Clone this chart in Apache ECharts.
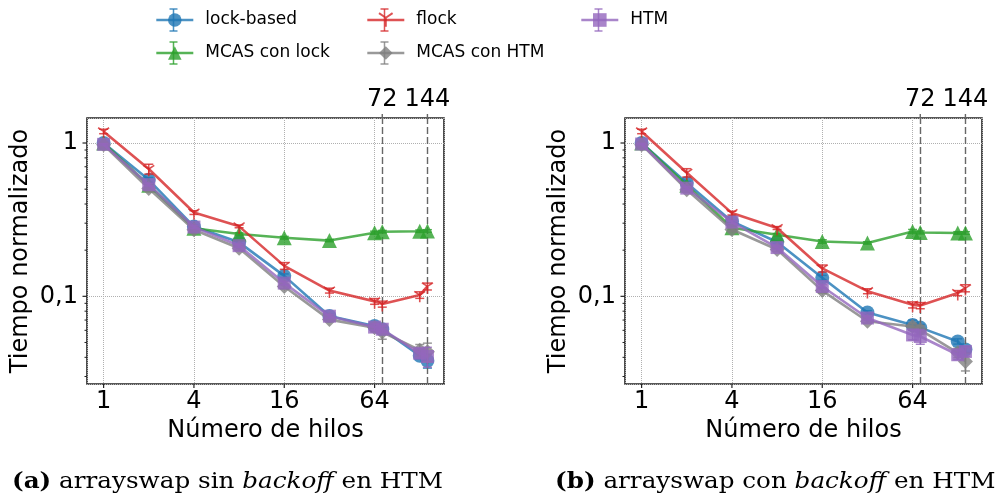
<!DOCTYPE html>
<html>
<head>
<meta charset="utf-8">
<script src="https://cdn.jsdelivr.net/npm/echarts@6/dist/echarts.min.js"></script>
<style>
  html, body { margin: 0; padding: 0; background: #ffffff; }
  #chart { width: 1000px; height: 500px; }
</style>
</head>
<body>
<div id="chart"></div>
<script>
// Thread counts on the x axis
const threads = [1, 2, 4, 8, 16, 32, 64, 72, 128, 144];
const xTickValues = [1, 4, 16, 64];
const yTickValues = [1, 0.1];
const yMinorValues = [0.03, 0.04, 0.05, 0.06, 0.07, 0.08, 0.09, 0.2, 0.3, 0.4, 0.5, 0.6, 0.7, 0.8, 0.9];
const markedThreads = [72, 144];

// (a) arrayswap sin backoff en HTM
const a_lockBased  = [1.0, 0.575, 0.285, 0.225, 0.136, 0.0745, 0.064, 0.061, 0.041, 0.038];
const a_mcasLock   = [1.0, 0.53, 0.278, 0.255, 0.241, 0.231, 0.260, 0.264, 0.266, 0.267];
const a_flock      = [1.19, 0.677, 0.352, 0.286, 0.158, 0.109, 0.0927, 0.089, 0.102, 0.116];
const a_mcasHTM    = [0.975, 0.505, 0.272, 0.206, 0.116, 0.0705, 0.0625, 0.0585, 0.0445, 0.0435];
const a_htm        = [0.98, 0.535, 0.283, 0.214, 0.122, 0.0742, 0.063, 0.061, 0.0425, 0.0405];
const a_err_lockBased = [0.01, 0.02, 0.006, 0.005, 0.004, 0.002, 0.002, 0.002, 0.002, 0.004];
const a_err_mcasLock  = [0.01, 0.01, 0.006, 0.005, 0.005, 0.004, 0.006, 0.005, 0.005, 0.005];
const a_err_flock     = [0.04, 0.05, 0.01, 0.006, 0.008, 0.004, 0.004, 0.004, 0.005, 0.006];
const a_err_mcasHTM   = [0.02, 0.015, 0.008, 0.006, 0.004, 0.002, 0.004, 0.006, 0.004, 0.006];
const a_err_htm       = [0.01, 0.01, 0.006, 0.005, 0.003, 0.002, 0.003, 0.003, 0.003, 0.006];

// (b) arrayswap con backoff en HTM
const b_lockBased  = [1.0, 0.548, 0.308, 0.226, 0.132, 0.0785, 0.065, 0.0625, 0.0508, 0.045];
const b_mcasLock   = [1.0, 0.53, 0.28, 0.252, 0.228, 0.223, 0.265, 0.261, 0.259, 0.259];
const b_flock      = [1.19, 0.64, 0.349, 0.279, 0.152, 0.108, 0.088, 0.087, 0.105, 0.113];
const b_mcasHTM    = [0.975, 0.496, 0.273, 0.202, 0.109, 0.0688, 0.0636, 0.0605, 0.0428, 0.0376];
const b_htm        = [0.985, 0.508, 0.305, 0.208, 0.116, 0.0722, 0.056, 0.0547, 0.0416, 0.0437];
const b_err_lockBased = [0.01, 0.015, 0.006, 0.005, 0.005, 0.002, 0.005, 0.003, 0.002, 0.002];
const b_err_mcasLock  = [0.01, 0.01, 0.006, 0.005, 0.006, 0.004, 0.008, 0.006, 0.005, 0.005];
const b_err_flock     = [0.04, 0.04, 0.01, 0.006, 0.008, 0.004, 0.004, 0.004, 0.004, 0.006];
const b_err_mcasHTM   = [0.02, 0.015, 0.008, 0.006, 0.004, 0.002, 0.003, 0.004, 0.003, 0.005];
const b_err_htm       = [0.01, 0.01, 0.006, 0.005, 0.003, 0.002, 0.004, 0.006, 0.003, 0.003];

const FONT = 'DejaVu Sans';
const SERIF = 'DejaVu Serif';

const styles = [
  { name: 'lock-based',    color: '#1f77b4', symbol: 'circle',   size: 14 },
  { name: 'MCAS con lock', color: '#2ca02c', symbol: 'triangle', size: 15 },
  { name: 'flock',         color: '#d62728', symbol: 'path://M0,0L0,10M0,0L-8.66,-5M0,0L8.66,-5', size: 11, stroke: true },
  { name: 'MCAS con HTM',  color: '#7f7f7f', symbol: 'diamond',  size: 15 },
  { name: 'HTM',           color: '#9467bd', symbol: 'rect',     size: 13 }
];

const panels = [
  { values: [a_lockBased, a_mcasLock, a_flock, a_mcasHTM, a_htm],
    errors: [a_err_lockBased, a_err_mcasLock, a_err_flock, a_err_mcasHTM, a_err_htm] },
  { values: [b_lockBased, b_mcasLock, b_flock, b_mcasHTM, b_htm],
    errors: [b_err_lockBased, b_err_mcasLock, b_err_flock, b_err_mcasHTM, b_err_htm] }
];

const gridBoxes = [
  { left: 87, top: 118, width: 357, height: 266 },
  { left: 625, top: 118, width: 357, height: 266 }
];

const X_MIN = 0.775, X_MAX = 185.7;
const Y_MIN = 0.0268, Y_MAX = 1.456;

const chart = echarts.init(document.getElementById('chart'), null, { renderer: 'canvas' });

const grids = gridBoxes.map(b => ({
  left: b.left, top: b.top, width: b.width, height: b.height,
  show: true, borderColor: '#222', borderWidth: 1.6, backgroundColor: 'transparent'
}));

const xAxes = gridBoxes.map((b, i) => ({
  type: 'log', logBase: 4, gridIndex: i, min: X_MIN, max: X_MAX,
  name: 'Número de hilos', nameLocation: 'middle', nameGap: 30,
  nameTextStyle: { fontFamily: FONT, fontSize: 24, color: '#000' },
  axisLine: { show: false },
  axisTick: { show: false },
  axisLabel: {
    fontFamily: FONT, fontSize: 24, color: '#000', margin: 6,
    showMinLabel: false, showMaxLabel: false,
    formatter: v => {
      const hit = xTickValues.find(t => Math.abs(t - v) / t < 1e-6);
      return hit ? String(hit) : '';
    }
  },
  splitLine: { show: true, lineStyle: { color: '#b0b0b0', width: 1, type: 'dotted' } }
}));

const yAxes = gridBoxes.map((b, i) => ({
  type: 'log', logBase: 10, gridIndex: i, min: Y_MIN, max: Y_MAX,
  name: 'Tiempo normalizado', nameLocation: 'middle', nameGap: 54,
  nameTextStyle: { fontFamily: FONT, fontSize: 24, color: '#000' },
  axisLine: { show: false },
  axisTick: { show: false },
  axisLabel: {
    fontFamily: FONT, fontSize: 24, color: '#000', margin: 9,
    showMinLabel: false, showMaxLabel: false,
    formatter: v => {
      const hit = yTickValues.find(t => Math.abs(t - v) / t < 1e-6);
      return hit ? String(hit).replace('.', ',') : '';
    }
  },
  splitLine: { show: true, lineStyle: { color: '#b0b0b0', width: 1, type: 'dotted' } }
}));

const series = [];
panels.forEach((panel, p) => {
  styles.forEach((st, k) => {
    const vals = panel.values[k];
    const errs = panel.errors[k];
    // error bars
    series.push({
      type: 'custom', xAxisIndex: p, yAxisIndex: p, z: 2 + k * 2,
      silent: true,
      data: threads.map((t, i) => [t, vals[i] - errs[i], vals[i] + errs[i]]),
      encode: { x: 0, y: [1, 2] },
      renderItem: (params, api) => {
        const x = api.value(0);
        const lo = api.coord([x, api.value(1)]);
        const hi = api.coord([x, api.value(2)]);
        const c = 4.5;
        const s = { stroke: st.color, lineWidth: 1.5, opacity: 0.8 };
        return {
          type: 'group',
          children: [
            { type: 'line', shape: { x1: lo[0], y1: lo[1], x2: hi[0], y2: hi[1] }, style: s },
            { type: 'line', shape: { x1: lo[0] - c, y1: lo[1], x2: lo[0] + c, y2: lo[1] }, style: s },
            { type: 'line', shape: { x1: hi[0] - c, y1: hi[1], x2: hi[0] + c, y2: hi[1] }, style: s }
          ]
        };
      }
    });
    const line = {
      name: st.name, type: 'line', xAxisIndex: p, yAxisIndex: p, z: 3 + k * 2,
      data: threads.map((t, i) => [t, vals[i]]),
      symbol: st.symbol, symbolSize: st.size, showSymbol: true,
      symbolOffset: st.stroke ? [0, '16.7%'] : [0, 0],
      lineStyle: { color: st.color, width: 2.6, opacity: 0.8 },
      itemStyle: st.stroke
        ? { color: st.color, borderColor: st.color, borderWidth: 1.6, opacity: 0.8 }
        : { color: st.color, opacity: 0.8, borderWidth: 0 },
      emphasis: { disabled: true },
      animation: false
    };
    if (k === 0) {
      line.markLine = {
        silent: true, symbol: 'none', animation: false,
        lineStyle: { color: '#666', width: 1.4, type: [7, 3] },
        label: { show: true, position: 'end', distance: 6, fontFamily: FONT, fontSize: 24, color: '#000',
                 formatter: prm => String(prm.value) },
        data: markedThreads.map(t => ({ xAxis: t }))
      };
    }
    series.push(line);
  });
});

// Legend: three columns, filled column by column
const legendSlots = [
  { name: 'lock-based',    left: 155, top: 11.5 },
  { name: 'MCAS con lock', left: 155, top: 44.5 },
  { name: 'flock',         left: 366, top: 11.5 },
  { name: 'MCAS con HTM',  left: 366, top: 44.5 },
  { name: 'HTM',           left: 580, top: 11.5 }
];
const LEG_W = 37, LEG_H = 17;
const legends = legendSlots.map(s => ({
  data: [s.name], left: s.left, top: s.top, padding: 0,
  itemWidth: LEG_W, itemHeight: LEG_H, selectedMode: false,
  lineStyle: { width: 2.6 },
  textStyle: { fontFamily: FONT, fontSize: 17, color: '#000', padding: [0, 0, 0, 7] }
}));

chart.setOption({
  backgroundColor: '#ffffff',
  animation: false,
  grid: grids,
  xAxis: xAxes,
  yAxis: yAxes,
  legend: legends,
  series: series
});

// Tick marks, legend error bars and captions
const graphics = [];
gridBoxes.forEach((b, i) => {
  const bottom = b.top + b.height;
  xTickValues.forEach(v => {
    const x = chart.convertToPixel({ xAxisIndex: i }, v);
    graphics.push({ type: 'line', shape: { x1: x, y1: bottom, x2: x, y2: bottom + 4 },
      style: { stroke: '#222', lineWidth: 1.2 }, z: 10 });
  });
  yTickValues.forEach(v => {
    const y = chart.convertToPixel({ yAxisIndex: i }, v);
    graphics.push({ type: 'line', shape: { x1: b.left - 4.5, y1: y, x2: b.left, y2: y },
      style: { stroke: '#222', lineWidth: 1.2 }, z: 10 });
  });
  yMinorValues.forEach(v => {
    const y = chart.convertToPixel({ yAxisIndex: i }, v);
    graphics.push({ type: 'line', shape: { x1: b.left - 2.5, y1: y, x2: b.left, y2: y },
      style: { stroke: '#222', lineWidth: 1 }, z: 10 });
  });
  // dashed markers reach a little above the frame
  markedThreads.forEach(t => {
    const x = chart.convertToPixel({ xAxisIndex: i }, t);
    graphics.push({ type: 'line', shape: { x1: x, y1: b.top - 4, x2: x, y2: b.top },
      style: { stroke: '#666', lineWidth: 1.4 }, z: 10 });
  });
});

legendSlots.forEach(s => {
  const st = styles.find(d => d.name === s.name);
  const cx = s.left + LEG_W / 2, cy = s.top + LEG_H / 2;
  const sty = { stroke: st.color, lineWidth: 1.5, opacity: 0.8 };
  graphics.push({ type: 'line', shape: { x1: cx, y1: cy - 11, x2: cx, y2: cy + 11 }, style: sty, z: 10 });
  graphics.push({ type: 'line', shape: { x1: cx - 4, y1: cy - 11, x2: cx + 4, y2: cy - 11 }, style: sty, z: 10 });
  graphics.push({ type: 'line', shape: { x1: cx - 4, y1: cy + 11, x2: cx + 4, y2: cy + 11 }, style: sty, z: 10 });
});

const captionRich = {
  b: { fontFamily: SERIF, fontSize: 22, fontWeight: 'bold', fill: '#000' },
  n: { fontFamily: SERIF, fontSize: 22, fill: '#000' },
  i: { fontFamily: SERIF, fontSize: 22, fontStyle: 'italic', fill: '#000' }
};
const captions = [
  { left: 12,  text: '{b|(a)}{n| arrayswap sin }{i|backoff}{n| en HTM}' },
  { left: 555, text: '{b|(b)}{n| arrayswap con }{i|backoff}{n| en HTM}' }
];
captions.forEach(c => {
  graphics.push({
    type: 'text', x: c.left, y: 471, scaleX: 1.12, z: 10,
    style: { text: c.text, rich: captionRich }
  });
});

chart.setOption({ graphic: graphics });
</script>
</body>
</html>
